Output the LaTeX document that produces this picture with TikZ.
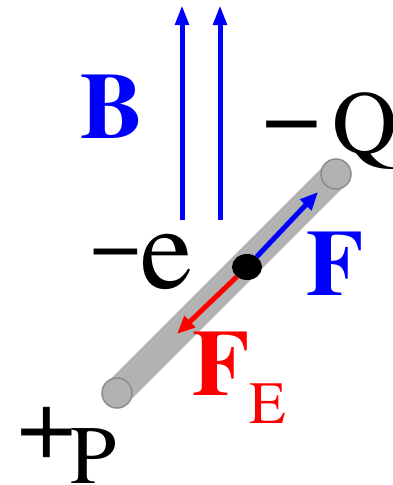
\documentclass[tikz,border=0pt]{standalone}
\usepackage{fontspec}
\setmainfont{TeX Gyre Termes}
\usepackage{tikz}
\usetikzlibrary{arrows.meta,shapes.geometric}
\tikzset{
  lbl/.style    = {anchor=base west, inner sep=0pt, outer sep=0pt},
  fldln/.style  = {blue, line width=5pt, -{Triangle[length=20pt,width=13pt]}},
  frc/.style    = {line width=5pt, -{Triangle[length=18pt,width=15pt]}},
  rod/.style    = {black!30, line width=29pt},
  rodend/.style = {circle, minimum size=30pt, inner sep=0pt, fill=black!30,
                   draw=black!45, line width=1.5pt},
  chg/.style    = {ellipse, fill=black, minimum width=30pt, minimum height=26pt, inner sep=0pt},
}
\newcommand{\fsz}[1]{\fontsize{#1}{#1}\selectfont}

\begin{document}
\begin{tikzpicture}[x=1pt,y=-1pt]
  \useasboundingbox (0,0) rectangle (393,485);
  % magnetic field
  \coordinate (b1s) at (182,220);
  \coordinate (b1t) at (182,5);
  \coordinate (b2s) at (220,220);
  \coordinate (b2t) at (220,5);
  \draw[fldln] (b1s) -- (b1t);
  \draw[fldln] (b2s) -- (b2t);
  % rod
  \coordinate (pc) at (117,393);
  \coordinate (qc) at (336,174);
  \draw[rod] (pc) -- (qc);
  \node[rodend] (pend) at (pc) {};
  \node[rodend] (qend) at (qc) {};
  % electron and forces
  \node[chg] (e) at (247,267) {};
  \coordinate (fb) at (318,192);
  \coordinate (fr) at (177,334);
  \draw[frc, blue] (e) -- (fb);
  \draw[frc, red] (e) -- (fr);
  % labels
  \node[lbl, blue, font=\fsz{94}\bfseries] (blbl) at (80,138) {B};
  \node[lbl, blue, font=\fsz{94}\bfseries] (flbl) at (306,295) {F};
  \node[lbl, red] (felbl) at (192,395) {\fsz{94}\bfseries F\raisebox{-28pt}{\fsz{60}\mdseries E}};
  \node[lbl] (elbl) at (90,288) {\raisebox{13.5pt}{\fsz{90}−}\fsz{118}e};
  \node[lbl] (qlbl) at (262,153) {\raisebox{3pt}{\fsz{104}−}\hspace{12pt}\fsz{90}Q};
  \node[lbl] (plbl) at (17,458) {\fsz{104}+\hspace{-5pt}\raisebox{-25pt}{\fsz{83}P}};
\end{tikzpicture}
\end{document}
